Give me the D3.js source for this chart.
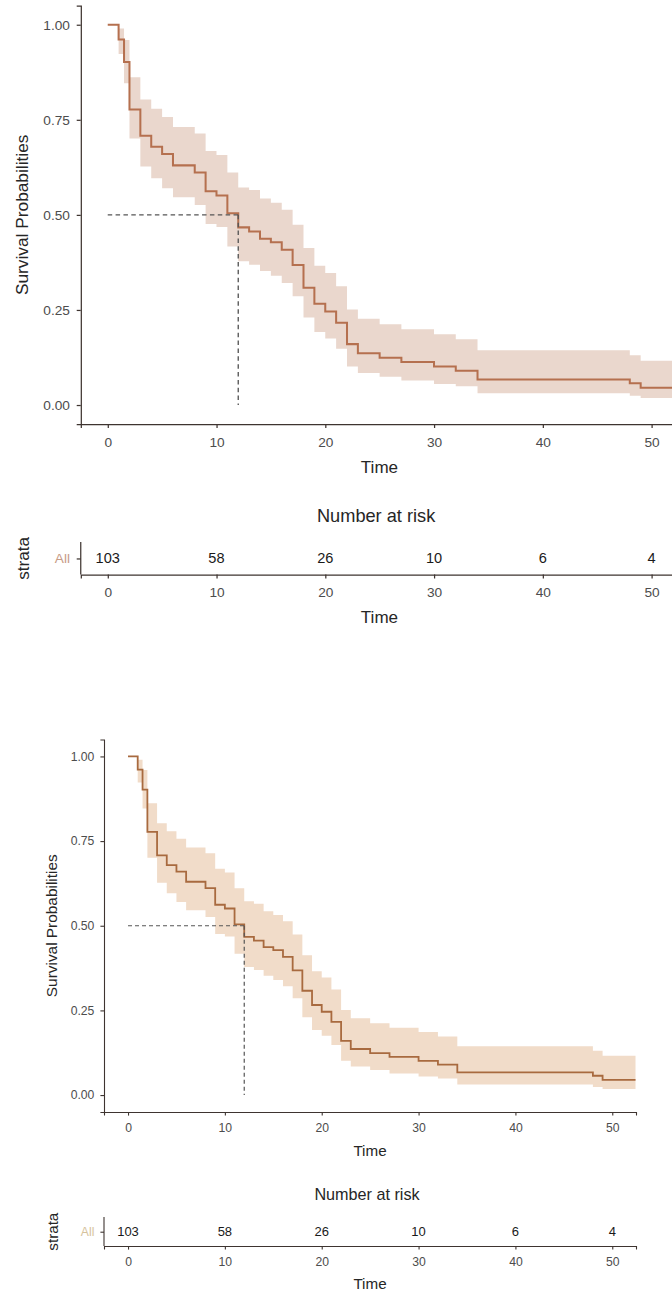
<!DOCTYPE html>
<html>
<head>
<meta charset="utf-8">
<script src="https://cdn.jsdelivr.net/npm/d3@7"></script>
<style>
  html, body { margin: 0; padding: 0; background: #fff; }
  svg { display: block; }
  text { font-family: Arial, "Liberation Sans", sans-serif; }
</style>
</head>
<body>
<svg id="chart" width="672" height="1294"></svg>
<script>
/* ================================
   DATA (Kaplan-Meier, all strata)
================================ */

const times = [0, 1, 1.5, 2, 3, 4, 5, 6, 8, 9, 10, 11, 12, 13, 14, 15, 16, 17, 18, 19, 20, 21, 22, 23, 25, 27, 30, 32, 34, 48, 49];
const surv  = [1, 0.961, 0.902, 0.777, 0.708, 0.679, 0.660, 0.630, 0.611, 0.562, 0.551, 0.504, 0.467, 0.456, 0.437, 0.428, 0.408, 0.368, 0.308, 0.266, 0.246, 0.216, 0.160, 0.136, 0.124, 0.113, 0.101, 0.090, 0.067, 0.057, 0.045];
const upper = [1, 0.99, 0.960, 0.862, 0.803, 0.779, 0.757, 0.731, 0.714, 0.668, 0.657, 0.611, 0.572, 0.565, 0.543, 0.532, 0.513, 0.474, 0.413, 0.366, 0.347, 0.312, 0.251, 0.227, 0.212, 0.199, 0.186, 0.173, 0.144, 0.131, 0.116];
const lower = [1, 0.923, 0.846, 0.701, 0.627, 0.596, 0.570, 0.546, 0.526, 0.476, 0.468, 0.417, 0.378, 0.369, 0.352, 0.340, 0.321, 0.286, 0.230, 0.192, 0.175, 0.148, 0.101, 0.084, 0.074, 0.064, 0.055, 0.049, 0.031, 0.024, 0.018];
const endTime = 52.4;
const medianTime = 12;

const xTicks = [0, 10, 20, 30, 40, 50];
const yTicks = [0, 0.25, 0.5, 0.75, 1];
const riskTimes  = [0, 10, 20, 30, 40, 50];
const riskCounts = [103, 58, 26, 10, 6, 4];
const strata = ["All"];

/* ================================
   LAYOUT (base = lower copy)
================================ */

const svg = d3.select("#chart");

const panel = { left: 104, right: 636, top: 739.5, bottom: 1112 };
const risk = { top: 1217, bottom: 1246, row: 1231.7 };

const x = d3.scaleLinear().domain([-2.48, 52.45]).range([panel.left, panel.right]);
const y = d3.scaleLinear().domain([-0.05, 1.05]).range([panel.bottom, panel.top]);
const yRisk = d3.scalePoint().domain(strata).range([risk.row, risk.row]);

const rows = times.map((t, i) => ({ t, s: surv[i], hi: upper[i], lo: lower[i] }));
rows.push({ t: endTime, s: surv[surv.length - 1], hi: upper[upper.length - 1], lo: lower[lower.length - 1] });

function drawPlot(g, col) {

  // confidence band
  g.append("path")
    .datum(rows)
    .attr("d", d3.area().curve(d3.curveStepAfter)
      .x(d => x(d.t)).y0(d => y(d.lo)).y1(d => y(d.hi)))
    .attr("fill", col.band);

  // survival curve
  g.append("path")
    .datum(rows)
    .attr("d", d3.line().curve(d3.curveStepAfter).x(d => x(d.t)).y(d => y(d.s)))
    .attr("fill", "none")
    .attr("stroke", col.line)
    .attr("stroke-width", 1.8);

  // median lines
  g.append("line")
    .attr("x1", x(0)).attr("x2", x(medianTime))
    .attr("y1", y(0.5)).attr("y2", y(0.5))
    .attr("stroke", "#555").attr("stroke-width", 1.2).attr("stroke-dasharray", "4 3");
  g.append("line")
    .attr("x1", x(medianTime)).attr("x2", x(medianTime))
    .attr("y1", y(0.5)).attr("y2", y(0))
    .attr("stroke", "#555").attr("stroke-width", 1.2).attr("stroke-dasharray", "4 3");

  // axes
  const yAx = g.append("g")
    .attr("transform", `translate(${panel.left},0)`)
    .call(d3.axisLeft(y).tickValues(yTicks).tickFormat(d3.format(".2f")).tickSizeOuter(0).tickSize(3.6).tickPadding(6));
  const xAx = g.append("g")
    .attr("transform", `translate(0,${panel.bottom})`)
    .call(d3.axisBottom(x).tickValues(xTicks).tickSizeOuter(0).tickSize(3.6).tickPadding(8));

  // risk table axes
  const rxAx = g.append("g")
    .attr("transform", `translate(0,${risk.bottom})`)
    .call(d3.axisBottom(x).tickValues(riskTimes).tickSizeOuter(0).tickSize(3.6).tickPadding(7.5));
  const ryAx = g.append("g")
    .attr("transform", `translate(${panel.left},0)`)
    .call(d3.axisLeft(yRisk).tickSizeOuter(0).tickSize(3.6).tickPadding(6));
  ryAx.select(".domain").attr("d", `M0,${risk.top}V${risk.bottom}`);

  [yAx, xAx, rxAx, ryAx].forEach(a => {
    a.select(".domain").attr("stroke", col.axis).attr("stroke-width", 1.1);
    a.selectAll(".tick line").attr("stroke", col.axis).attr("stroke-width", 1.1);
    a.selectAll(".tick text")
      .attr("fill", "#4d4d4d")
      .style("font-size", "12.2px")
      .style("font-family", "Arial, 'Liberation Sans', sans-serif");
  });
  ryAx.selectAll(".tick text").attr("fill", col.strata);

  // risk counts
  g.append("g").selectAll("text")
    .data(riskTimes)
    .join("text")
    .attr("x", d => x(d))
    .attr("y", yRisk("All"))
    .attr("dy", "0.35em")
    .attr("text-anchor", "middle")
    .style("font-size", "13px")
    .attr("fill", "#1a1a1a")
    .text((d, i) => riskCounts[i]);

  // titles
  const title = (txt, tx, ty, size, rot) => g.append("text")
    .attr("transform", `translate(${tx},${ty})` + (rot ? " rotate(-90)" : ""))
    .attr("text-anchor", "middle")
    .attr("dy", "0.35em")
    .style("font-size", size + "px")
    .attr("fill", "#262626")
    .text(txt);

  title("Survival Probabilities", 51.4, (panel.top + panel.bottom) / 2, 15.4, true);
  title("Time", (panel.left + panel.right) / 2, 1150.5, 15.2);
  title("Number at risk", 367, 1194, 16.2);
  title("strata", 52.8, risk.row, 15.2, true);
  title("Time", (panel.left + panel.right) / 2, 1283.8, 15.2);
}

// enlarged copy at the top (cut by the window edge)
drawPlot(svg.append("g").attr("transform", "translate(-36.04,-824.8) scale(1.123)"),
  { band: "#ead7cd", line: "#b5704f", axis: "#3e3430", strata: "#c79b86" });

// smaller copy below
drawPlot(svg.append("g"),
  { band: "#f1dcc9", line: "#a86a3f", axis: "#3e3430", strata: "#d6c29c" });
</script>
</body>
</html>
